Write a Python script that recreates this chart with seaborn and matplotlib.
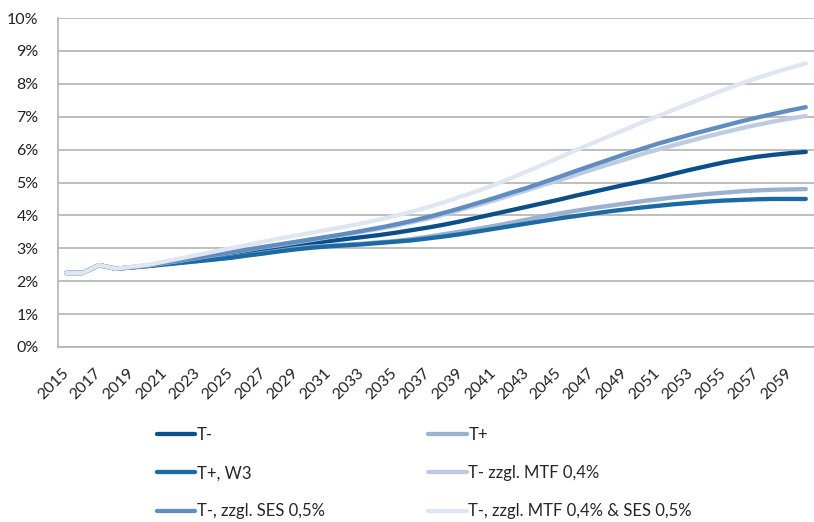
import numpy as np
import pandas as pd
import matplotlib
matplotlib.use("Agg")
import matplotlib.pyplot as plt
import seaborn as sns
from matplotlib.ticker import FuncFormatter, MultipleLocator

years = list(range(2015, 2061))

t_minus = [2.25, 2.25, 2.49, 2.38, 2.42, 2.47, 2.54, 2.61, 2.68, 2.75,
           2.82, 2.89, 2.96, 3.03, 3.10, 3.16, 3.22, 3.28, 3.34, 3.40,
           3.47, 3.55, 3.63, 3.72, 3.82, 3.93, 4.04, 4.15, 4.26, 4.37,
           4.48, 4.60, 4.71, 4.82, 4.93, 5.03, 5.15, 5.27, 5.39, 5.50,
           5.61, 5.70, 5.78, 5.84, 5.89, 5.93]

t_plus = [2.25, 2.25, 2.49, 2.38, 2.42, 2.46, 2.51, 2.56, 2.61, 2.66,
          2.72, 2.79, 2.86, 2.93, 3.00, 3.05, 3.08, 3.11, 3.14, 3.18,
          3.22, 3.28, 3.35, 3.43, 3.51, 3.59, 3.68, 3.77, 3.87, 3.97,
          4.06, 4.14, 4.22, 4.29, 4.36, 4.43, 4.49, 4.55, 4.60, 4.65,
          4.69, 4.73, 4.76, 4.78, 4.79, 4.80]

t_plus_w3 = [2.25, 2.25, 2.49, 2.38, 2.42, 2.46, 2.51, 2.56, 2.61, 2.66,
             2.71, 2.78, 2.84, 2.91, 2.97, 3.02, 3.06, 3.09, 3.12, 3.16,
             3.20, 3.24, 3.30, 3.36, 3.43, 3.51, 3.59, 3.67, 3.75, 3.83,
             3.91, 3.98, 4.05, 4.12, 4.18, 4.24, 4.29, 4.34, 4.38, 4.42,
             4.45, 4.47, 4.49, 4.50, 4.50, 4.50]

t_minus_mtf = [2.25, 2.25, 2.49, 2.38, 2.43, 2.48, 2.55, 2.63, 2.71, 2.79,
               2.87, 2.95, 3.03, 3.10, 3.18, 3.26, 3.34, 3.42, 3.50, 3.59,
               3.68, 3.79, 3.90, 4.03, 4.17, 4.31, 4.45, 4.61, 4.76, 4.92,
               5.07, 5.23, 5.39, 5.55, 5.70, 5.86, 6.00, 6.14, 6.27, 6.40,
               6.52, 6.64, 6.75, 6.85, 6.94, 7.02]

t_minus_ses = [2.25, 2.25, 2.49, 2.38, 2.43, 2.48, 2.56, 2.64, 2.72, 2.80,
               2.88, 2.96, 3.04, 3.12, 3.20, 3.28, 3.36, 3.44, 3.53, 3.62,
               3.72, 3.83, 3.95, 4.08, 4.22, 4.37, 4.52, 4.68, 4.83, 5.00,
               5.17, 5.35, 5.52, 5.69, 5.86, 6.02, 6.18, 6.32, 6.46, 6.59,
               6.72, 6.85, 6.97, 7.08, 7.19, 7.29]

t_minus_mtf_ses = [2.25, 2.25, 2.49, 2.38, 2.44, 2.50, 2.60, 2.70, 2.80, 2.90,
                   3.00, 3.10, 3.20, 3.30, 3.39, 3.48, 3.57, 3.66, 3.76, 3.87,
                   3.98, 4.11, 4.25, 4.40, 4.57, 4.74, 4.92, 5.12, 5.33, 5.54,
                   5.76, 5.98, 6.19, 6.40, 6.61, 6.82, 7.02, 7.22, 7.42, 7.62,
                   7.81, 8.00, 8.17, 8.33, 8.48, 8.62]

series_names = ["T-", "T+", "T+, W3", "T- zzgl. MTF 0,4%",
                "T-, zzgl. SES 0,5%", "T-, zzgl. MTF 0,4% & SES 0,5%"]
series_values = [t_minus, t_plus, t_plus_w3, t_minus_mtf,
                 t_minus_ses, t_minus_mtf_ses]
colors = ["#0B4F8A", "#9BB1D0", "#1B6AA3", "#BDCCE2", "#5F8DBF", "#DFE6F1"]

x_tick_labels = [str(y) for y in range(2015, 2060, 2)]

df = pd.DataFrame({
    "Jahr": np.tile(years, len(series_names)),
    "Wert": np.concatenate(series_values),
    "Szenario": np.repeat(series_names, len(years)),
})

sns.set_theme(style="white")
plt.rcParams["font.family"] = ["Lato", "DejaVu Sans"]

fig = plt.figure(figsize=(8.14, 5.22), dpi=100)
ax = fig.add_axes([58 / 814, 1 - 347 / 522, 1 - 58 / 814, (347 - 18) / 522])

sns.lineplot(data=df, x="Jahr", y="Wert", hue="Szenario",
             hue_order=series_names, palette=colors, linewidth=3.1,
             legend=False, ax=ax)
for line in ax.lines:
    line.set_solid_capstyle("round")
    line.set_solid_joinstyle("round")

ax.set_xlim(2014.5, 2060.5)
ax.set_ylim(0, 10)
ax.yaxis.set_major_locator(MultipleLocator(1))
ax.yaxis.set_major_formatter(FuncFormatter(lambda v, p: f"{v:.0f}%"))
ax.set_xticks(range(2015, 2060, 2))
ax.set_xticklabels(x_tick_labels, rotation=45, ha="right",
                   rotation_mode="anchor", va="center")
ax.set_xlabel("")
ax.set_ylabel("")

ax.grid(axis="y", color="#B3B3B3", linewidth=1.2)
ax.grid(axis="x", visible=False)
ax.set_axisbelow(True)
for side in ["top", "right"]:
    ax.spines[side].set_visible(False)
for side in ["left", "bottom"]:
    ax.spines[side].set_color("#B3B3B3")
    ax.spines[side].set_linewidth(1.2)
ax.tick_params(axis="both", length=0, labelsize=11.5, colors="#222222")
ax.tick_params(axis="y", pad=14)
ax.tick_params(axis="x", pad=17)

# legend laid out in rows: T- | T+ ; T+, W3 | MTF ; SES | MTF & SES
handles = ax.lines
order = [0, 2, 4, 1, 3, 5]
fig.legend([handles[i] for i in order], [series_names[i] for i in order],
           loc="upper left", bbox_to_anchor=(157 / 814, 1 - 427 / 522),
           ncol=2, frameon=False, fontsize=12, handlelength=2.3,
           handletextpad=0.1, labelspacing=1.33, columnspacing=6.2,
           borderaxespad=0, borderpad=0)

fig.savefig("out.png", dpi=100)
